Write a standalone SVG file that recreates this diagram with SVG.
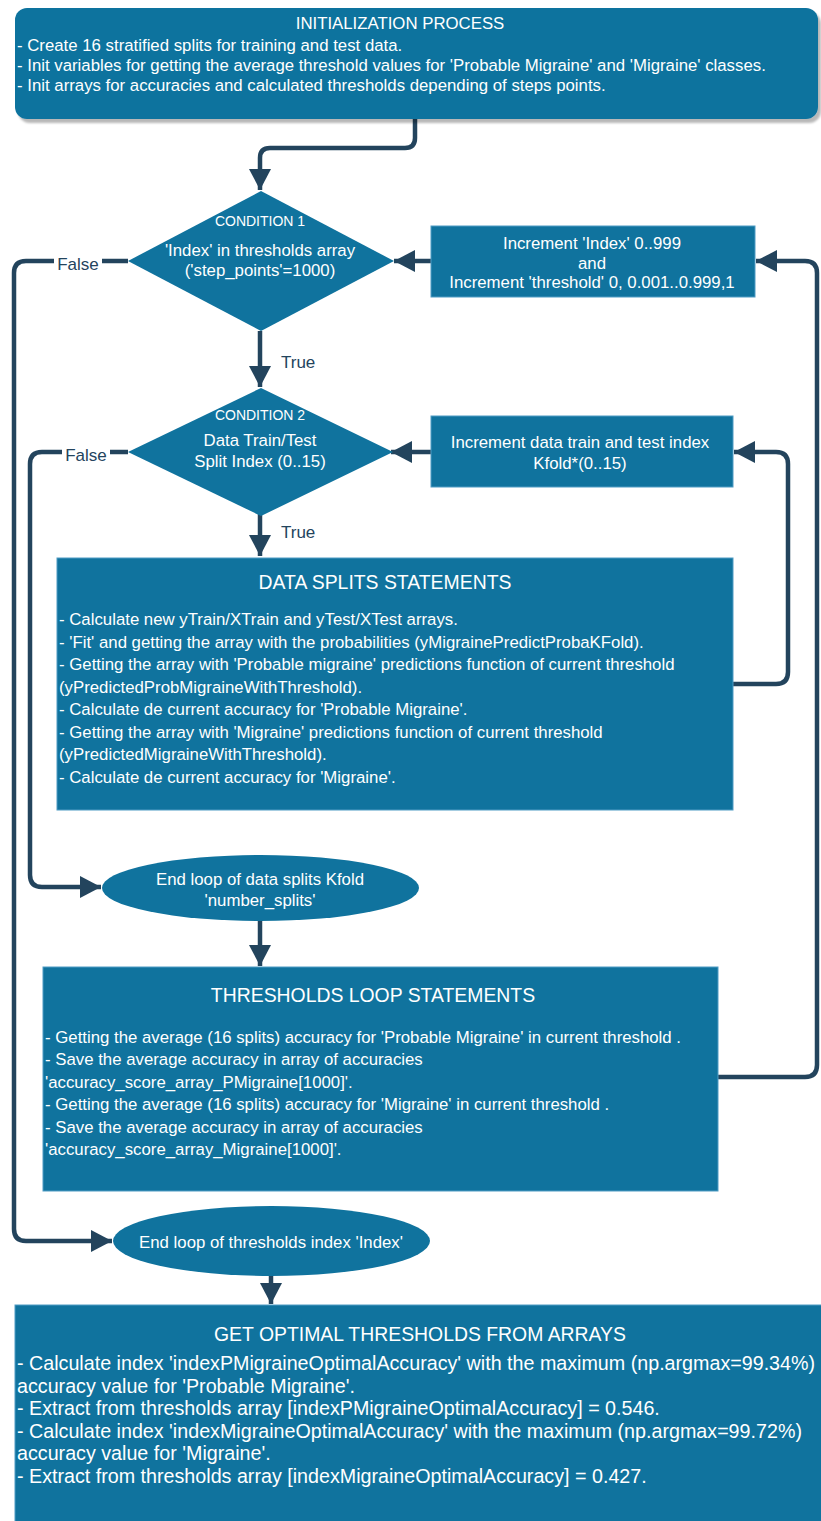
<svg xmlns="http://www.w3.org/2000/svg" width="821" height="1521" viewBox="0 0 821 1521">
  <style>
    .box { fill: #10739E; stroke: #4f9cc4; stroke-width: 1; }
    .txt { font-family: "Liberation Sans", Arial, sans-serif; fill: #ffffff; font-size: 16.8px; }
    .title { font-size: 19.4px; }
    .big { font-size: 19.7px; }
    .small { font-size: 14px; }
    .mid { text-anchor: middle; }
    .edge { fill: none; stroke: #23445D; stroke-width: 4.5; }
    .lbl { font-family: "Liberation Sans", Arial, sans-serif; fill: #23445D; font-size: 17px; }
    .lblbg { fill: #ffffff; }
  </style>
  <defs>
    <marker id="arrow" markerUnits="userSpaceOnUse" markerWidth="22" markerHeight="22" refX="21" refY="11" orient="auto">
      <path d="M0,0 L21,11 L0,22 Z" fill="#23445D"/>
    </marker>
    <filter id="shadow" x="-5%" y="-10%" width="115%" height="130%">
      <feDropShadow dx="3" dy="4" stdDeviation="1" flood-color="#000000" flood-opacity="0.28"/>
    </filter>
  </defs>
  <rect width="821" height="1521" fill="#ffffff"/>

  <!-- connectors -->
  <g id="connectors">
    <path class="edge" d="M415,119 V138 Q415,148 405,148 H270 Q260,148 260,158 V190" marker-end="url(#arrow)"/>
    <path class="edge" d="M260,331 V387" marker-end="url(#arrow)"/>
    <path class="edge" d="M128,261 H26 Q14,261 14,273 V1229 Q14,1241 26,1241 H112" marker-end="url(#arrow)"/>
    <path class="edge" d="M431,261 H394" marker-end="url(#arrow)"/>
    <path class="edge" d="M718,1077 H805 Q817,1077 817,1065 V273 Q817,261 805,261 H756" marker-end="url(#arrow)"/>
    <path class="edge" d="M128,452 H42 Q30,452 30,464 V875 Q30,887 42,887 H101" marker-end="url(#arrow)"/>
    <path class="edge" d="M431,452 H391" marker-end="url(#arrow)"/>
    <path class="edge" d="M733,684 H776 Q788,684 788,672 V464 Q788,452 776,452 H734" marker-end="url(#arrow)"/>
    <path class="edge" d="M260,514 V556" marker-end="url(#arrow)"/>
    <path class="edge" d="M260,921 V966" marker-end="url(#arrow)"/>
    <path class="edge" d="M271,1276 V1304" marker-end="url(#arrow)"/>
    <!-- edge labels -->
    <rect class="lblbg" x="54" y="251" width="48" height="22"/>
    <text class="lbl" x="78" y="269.5" text-anchor="middle" font-size="18.4">False</text>
    <rect class="lblbg" x="62" y="442" width="48" height="22"/>
    <text class="lbl" x="86" y="460.5" text-anchor="middle" font-size="18.4">False</text>
    <text class="lbl" x="281" y="368">True</text>
    <text class="lbl" x="281" y="538">True</text>
  </g>

  <!-- initialization -->
  <g id="init">
    <rect x="15" y="8" width="803" height="111" rx="12" ry="12" fill="#10739E" filter="url(#shadow)"/>
    <text class="txt mid" x="400" y="28.5">INITIALIZATION PROCESS</text>
    <text class="txt" x="17" y="51">- Create 16 stratified splits for training and test data.</text>
    <text class="txt" x="17" y="71">- Init variables for getting the average threshold values for 'Probable Migraine' and 'Migraine' classes.</text>
    <text class="txt" x="17" y="91">- Init arrays for accuracies and calculated thresholds depending of steps points.</text>
  </g>

  <!-- condition 1 -->
  <g id="condition1">
    <polygon points="261,191 394,261 261,331 128,261" fill="#10739E"/>
    <text class="txt small mid" x="260" y="226">CONDITION 1</text>
    <text class="txt mid" x="260" y="256">'Index' in thresholds array</text>
    <text class="txt mid" x="260" y="276">('step_points'=1000)</text>
  </g>

  <!-- threshold increment -->
  <g id="incThreshold">
    <rect class="box" x="431" y="226" width="324" height="71"/>
    <text class="txt mid" x="592" y="249">Increment 'Index' 0..999</text>
    <text class="txt mid" x="592" y="269">and</text>
    <text class="txt mid" x="592" y="288">Increment 'threshold' 0, 0.001..0.999,1</text>
  </g>

  <!-- condition 2 -->
  <g id="condition2">
    <polygon points="261,388 393,452 261,516 128,452" fill="#10739E"/>
    <text class="txt small mid" x="260" y="420">CONDITION 2</text>
    <text class="txt mid" x="260" y="446">Data Train/Test</text>
    <text class="txt mid" x="260" y="467">Split Index (0..15)</text>
  </g>

  <!-- split increment -->
  <g id="incSplit">
    <rect class="box" x="431" y="416" width="302" height="71"/>
    <text class="txt mid" x="580" y="448">Increment data train and test index</text>
    <text class="txt mid" x="580" y="469">Kfold*(0..15)</text>
  </g>

  <!-- data splits statements -->
  <g id="dataSplits">
    <rect class="box" x="57" y="558" width="676" height="252"/>
    <text class="txt title mid" x="385" y="589">DATA SPLITS STATEMENTS</text>
    <text class="txt" x="59" y="625">- Calculate new yTrain/XTrain and yTest/XTest arrays.</text>
    <text class="txt" x="59" y="648">- 'Fit' and getting the array with the probabilities (yMigrainePredictProbaKFold).</text>
    <text class="txt" x="59" y="670">- Getting the array with 'Probable migraine' predictions function of current threshold</text>
    <text class="txt" x="59" y="693">(yPredictedProbMigraineWithThreshold).</text>
    <text class="txt" x="59" y="715">- Calculate de current accuracy for 'Probable Migraine'.</text>
    <text class="txt" x="59" y="738">- Getting the array with 'Migraine' predictions function of current threshold</text>
    <text class="txt" x="59" y="760">(yPredictedMigraineWithThreshold).</text>
    <text class="txt" x="59" y="783">- Calculate de current accuracy for 'Migraine'.</text>
  </g>

  <!-- end of kfold loop -->
  <g id="endSplits">
    <ellipse cx="260.5" cy="888" rx="158.5" ry="33" fill="#10739E"/>
    <text class="txt mid" x="260" y="885">End loop of data splits Kfold</text>
    <text class="txt mid" x="260" y="906">'number_splits'</text>
  </g>

  <!-- thresholds loop statements -->
  <g id="thresholdsLoop">
    <rect class="box" x="43" y="967" width="675" height="224"/>
    <text class="txt title mid" x="373" y="1002">THRESHOLDS LOOP STATEMENTS</text>
    <text class="txt" x="45" y="1043">- Getting the average (16 splits) accuracy for 'Probable Migraine' in current threshold .</text>
    <text class="txt" x="45" y="1065">- Save the average accuracy in array of accuracies</text>
    <text class="txt" x="45" y="1088">'accuracy_score_array_PMigraine[1000]'.</text>
    <text class="txt" x="45" y="1110">- Getting the average (16 splits) accuracy for 'Migraine' in current threshold .</text>
    <text class="txt" x="45" y="1133">- Save the average accuracy in array of accuracies</text>
    <text class="txt" x="45" y="1155">'accuracy_score_array_Migraine[1000]'.</text>
  </g>

  <!-- end of thresholds loop -->
  <g id="endThresholds">
    <ellipse cx="271.5" cy="1241" rx="158.5" ry="35" fill="#10739E"/>
    <text class="txt mid" x="271" y="1248">End loop of thresholds index 'Index'</text>
  </g>

  <!-- optimal thresholds -->
  <g id="optimal">
    <rect class="box" x="15" y="1305" width="807" height="217"/>
    <text class="txt title mid" x="420" y="1341">GET OPTIMAL THRESHOLDS FROM ARRAYS</text>
    <text class="txt big" x="17" y="1370">- Calculate index 'indexPMigraineOptimalAccuracy' with the maximum (np.argmax=99.34%)</text>
    <text class="txt big" x="17" y="1393">accuracy value for 'Probable Migraine'.</text>
    <text class="txt big" x="17" y="1415">- Extract from thresholds array [indexPMigraineOptimalAccuracy] = 0.546.</text>
    <text class="txt big" x="17" y="1438">- Calculate index 'indexMigraineOptimalAccuracy' with the maximum (np.argmax=99.72%)</text>
    <text class="txt big" x="17" y="1460">accuracy value for 'Migraine'.</text>
    <text class="txt big" x="17" y="1483">- Extract from thresholds array [indexMigraineOptimalAccuracy] = 0.427.</text>
  </g>
</svg>
